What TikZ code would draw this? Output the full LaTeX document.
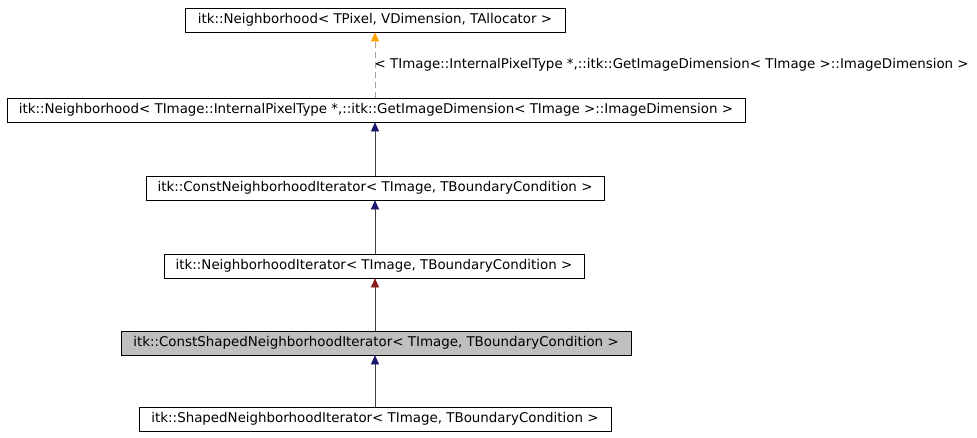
\documentclass[tikz,border=0pt]{standalone}
\usepackage{fontspec}
\setmainfont{DejaVu Sans}
\usetikzlibrary{arrows.meta}
\definecolor{navy}{RGB}{25,25,112}
\definecolor{dred}{RGB}{139,26,26}
\definecolor{orng}{RGB}{255,165,0}
\definecolor{gfill}{RGB}{191,191,191}
\begin{document}
\begin{tikzpicture}[x=1pt,y=-1pt,
  cls/.style={draw=black,line width=0.6pt,inner sep=0pt,font=\fontsize{13.4}{15}\selectfont,minimum height=24pt},
  edge/.style={draw={rgb,255:red,64;green,64;blue,64},line width=0.6pt},
  nav/.style={edge,-{Triangle[length=9pt,width=8pt,fill=navy,color=navy]}},
  red/.style={edge,-{Triangle[length=9pt,width=8pt,fill=dred,color=dred]}},
  org/.style={draw={rgb,255:red,160;green,160;blue,160},line width=0.6pt,dash pattern=on 6pt off 4pt,-{Triangle[length=9pt,width=8pt,fill=orng,color=orng]}}]
\useasboundingbox (0,0) rectangle (977,437);
\node[cls,minimum width=380pt] (a) at (375,20) {itk::Neighborhood< TPixel, VDimension, TAllocator >};
\node[cls,minimum width=738pt] (b) at (376,110) {itk::Neighborhood< TImage::InternalPixelType *,::itk::GetImageDimension< TImage >::ImageDimension >};
\node[cls,minimum width=458pt] (c) at (375,188) {itk::ConstNeighborhoodIterator< TImage, TBoundaryCondition >};
\node[cls,minimum width=420pt] (d) at (374,266) {itk::NeighborhoodIterator< TImage, TBoundaryCondition >};
\node[cls,minimum width=510pt,fill=gfill] (e) at (376,343) {itk::ConstShapedNeighborhoodIterator< TImage, TBoundaryCondition >};
\node[cls,minimum width=472pt] (f) at (375,419) {itk::ShapedNeighborhoodIterator< TImage, TBoundaryCondition >};
\draw[org] (b.north -| a.south) -- (a.south) node[pos=0.5,right,xshift=-4pt,font=\fontsize{13.4}{15}\selectfont] (l) {< TImage::InternalPixelType *,::itk::GetImageDimension< TImage >::ImageDimension >};
\draw[nav] (c.north -| 375,0) -- (b.south -| 375,0);
\draw[nav] (d.north -| 375,0) -- (c.south -| 375,0);
\draw[red] (e.north -| 375,0) -- (d.south -| 375,0);
\draw[nav] (f.north -| 375,0) -- (e.south -| 375,0);
\end{tikzpicture}
\end{document}
